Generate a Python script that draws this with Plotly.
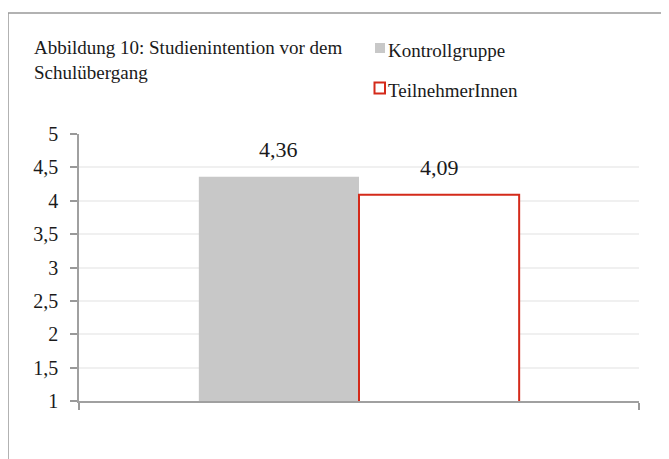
import plotly.graph_objects as go

series_names = ["Kontrollgruppe", "TeilnehmerInnen"]
series_values = [4.36, 4.09]
series_labels = ["4,36", "4,09"]
y_ticks = [1, 1.5, 2, 2.5, 3, 3.5, 4, 4.5, 5]
title_text = "Abbildung 10: Studienintention vor dem<br>Schulübergang"

FONT = "Liberation Serif, Times New Roman, serif"
W, H = 669, 459
OFF = 8  # page offset of the plot div
L, T = 71, 126
PW, PH = 560, 267
R, B = W - L - PW, H - T - PH

def px(x):
    return (x - OFF - L) / PW

def py(y):
    return (T + PH - (y - OFF)) / PH

bar_w = 0.286
fills = ["#c8c8c8", "#ffffff"]
lines = ["#c8c8c8", "#d42a1a"]
offsets = [-bar_w, 0.0]

fig = go.Figure()
for name, v, f, lc, off in zip(series_names, series_values, fills, lines, offsets):
    fig.add_trace(go.Bar(
        x=[0.5], y=[v], base=0, width=bar_w, offset=off, name=name,
        marker=dict(color=f, line=dict(color=lc, width=2 if f == "#ffffff" else 0)),
        showlegend=False, hoverinfo="skip",
    ))

annotations = []
for v, lab, off in zip(series_values, series_labels, offsets):
    annotations.append(dict(
        x=0.5 + off + bar_w / 2, y=v, xref="x", yref="y", text=lab,
        showarrow=False, yanchor="middle", yshift=27,
        font=dict(family=FONT, size=22, color="#1a1a1a"),
    ))

annotations.append(dict(
    x=px(32), y=py(59.5), xref="paper", yref="paper", text=title_text,
    showarrow=False, xanchor="left", yanchor="middle", align="left",
    font=dict(family=FONT, size=19, color="#1a1a1a"),
))

shapes = [
    dict(type="rect", xref="paper", yref="paper",
         x0=px(8), x1=px(700), y0=py(490), y1=py(13),
         line=dict(color="#999999", width=1.5), fillcolor="rgba(0,0,0,0)", layer="below"),
    dict(type="rect", xref="paper", yref="paper",
         x0=px(375), x1=px(385), y0=py(53), y1=py(43),
         line=dict(width=0), fillcolor="#c8c8c8"),
    dict(type="rect", xref="paper", yref="paper",
         x0=px(374.5), x1=px(385), y0=py(93.5), y1=py(82.5),
         line=dict(color="#d42a1a", width=2), fillcolor="#ffffff"),
]

for name, yc in zip(series_names, [51, 90]):
    annotations.append(dict(
        x=px(386), y=py(yc), xref="paper", yref="paper", text=name,
        showarrow=False, xanchor="left", yanchor="middle",
        font=dict(family=FONT, size=19, color="#1a1a1a"),
    ))

fig.update_layout(
    width=W, height=H,
    margin=dict(l=L, r=R, t=T, b=B),
    paper_bgcolor="white", plot_bgcolor="white",
    separators=", ",
    annotations=annotations, shapes=shapes,
    xaxis=dict(range=[0, 1], tickvals=[0, 1], ticktext=["", ""], ticks="outside",
               ticklen=7, tickwidth=1.5, tickcolor="#999999", showline=True,
               linecolor="#a0a0a0", linewidth=1.5, showgrid=False, zeroline=False,
               fixedrange=True),
    yaxis=dict(range=[1, 5], tickvals=y_ticks, ticks="outside", ticklen=7, tickwidth=1.5,
               tickcolor="#999999", showline=True, linecolor="#a0a0a0", linewidth=1.5,
               showgrid=True, gridcolor="#f0f0f0", gridwidth=1.5, zeroline=False,
               ticklabelstandoff=8,
               tickfont=dict(family=FONT, size=20, color="#1a1a1a"), fixedrange=True),
)

fig.write_html("out.html")
